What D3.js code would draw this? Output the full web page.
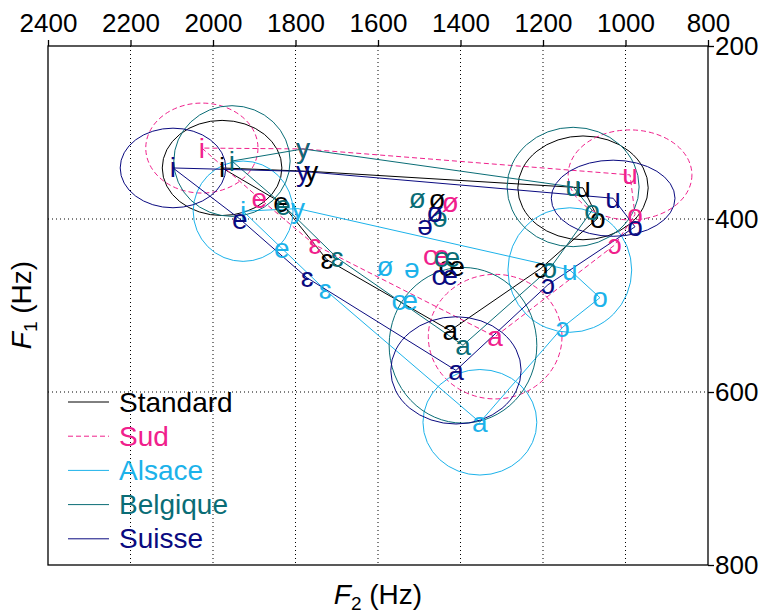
<!DOCTYPE html>
<html lang="fr">
<head>
<meta charset="UTF-8">
<title>Voyelles du français</title>
<script src="https://d3js.org/d3.v7.min.js"></script>
<style>
  body { margin: 0; background: #fff; }
  svg text { font-family: "Liberation Sans", Arial, sans-serif; }
  .grid line { stroke: #000; stroke-width: 1; stroke-dasharray: 1,3; }
  .axis path, .axis line { stroke: #000; stroke-width: 1.3; }
  .axis text { font-size: 26px; fill: #000; }
</style>
</head>
<body>
<svg width="768" height="615"></svg>
<script>
// vowel labels, same order in every series
const vowels = ["i", "y", "e", "ɛ", "ø", "œ", "ə", "a", "ɔ", "o", "u"];
const seriesNames = ["Standard", "Sud", "Alsace", "Belgique", "Suisse"];
const seriesColors = ["#000000", "#f0208c", "#1cb2ea", "#0a6d76", "#0a0a80"];

// F2 / F1 in Hz (null = not plotted)
const standardF2 = [1978, 1762, 1835, 1724, 1457, 1421, null, 1425, 1205, 1067, 1103];
const standardF1 = [341, 345, 381, 447, 378, 455, null, 529, 457, 399, 364];
const sudF2 = [2027, 1782, 1888, 1753, 1425, 1459, null, 1316, 1026, 977, 989];
const sudF1 = [318, 319, 376, 430, 381, 442, null, 536, 430, 395, 349];
const alsaceF2 = [1927, 1794, 1833, 1728, 1583, 1535, 1518, 1353, 1152, 1062, 1135];
const alsaceF1 = [391, 388, 434, 482, 455, 494, 457, 635, 525, 491, 459];
const belgiqueF2 = [1954, 1782, 1830, 1699, 1505, 1433, 1450, 1394, 1183, 1081, 1127];
const belgiqueF1 = [333, 319, 384, 445, 376, 445, 398, 546, 457, 390, 363];
const suisseF2 = [2097, 1782, 1935, 1772, 1462, 1438, 1486, 1411, 1188, 977, 1030];
const suisseF1 = [341, 345, 400, 468, 393, 465, 407, 575, 476, 409, 376];

// dispersion ellipses around i, u, a (half-axes in Hz)
const ellipseVowels = ["i", "u", "a"];
const standardRx = [145, 158, null], standardRy = [55, 60, null];
const sudRx = [136, 150, 162], sudRy = [52, 52, 72];
const alsaceRx = [121, 150, 138], alsaceRy = [58, 72, 61];
const belgiqueRx = [141, 160, 179], belgiqueRy = [64, 69, 90];
const suisseRx = [128, 150, 158], suisseRy = [46, 44, 62];

// outline of the vowel space
const outline = ["i", "e", "ɛ", "a", "ɔ", "o", "u", "y", "i"];

const xTicks = [2400, 2200, 2000, 1800, 1600, 1400, 1200, 1000, 800];
const yTicks = [200, 400, 600, 800];

const allF2 = [standardF2, sudF2, alsaceF2, belgiqueF2, suisseF2];
const allF1 = [standardF1, sudF1, alsaceF1, belgiqueF1, suisseF1];
const allRx = [standardRx, sudRx, alsaceRx, belgiqueRx, suisseRx];
const allRy = [standardRy, sudRy, alsaceRy, belgiqueRy, suisseRy];

const series = seriesNames.map((name, s) => ({
  name,
  color: seriesColors[s],
  dashed: name === "Sud",
  points: vowels.map((v, k) => ({ v, f2: allF2[s][k], f1: allF1[s][k] })).filter(p => p.f2 != null),
  ellipses: ellipseVowels.map((v, k) => ({ v, rx: allRx[s][k], ry: allRy[s][k] })).filter(e => e.rx != null)
}));

const svg = d3.select("svg");
const x = d3.scaleLinear().domain([2400, 800]).range([48, 708]);
const y = d3.scaleLinear().domain([200, 800]).range([46, 565]);

// grid
const grid = svg.append("g").attr("class", "grid");
grid.selectAll(".gx").data(xTicks.slice(1, -1)).enter().append("line")
  .attr("x1", d => x(d)).attr("x2", d => x(d)).attr("y1", y(200)).attr("y2", y(800));
grid.selectAll(".gy").data(yTicks.slice(1, -1)).enter().append("line")
  .attr("x1", x(2400)).attr("x2", x(800)).attr("y1", d => y(d)).attr("y2", d => y(d));

series.forEach(s => {
  const g = svg.append("g");
  const byVowel = new Map(s.points.map(p => [p.v, p]));
  const dash = s.dashed ? "5,3" : null;

  g.selectAll("ellipse").data(s.ellipses).enter().append("ellipse")
    .attr("cx", e => x(byVowel.get(e.v).f2))
    .attr("cy", e => y(byVowel.get(e.v).f1))
    .attr("rx", e => x(2400 - e.rx) - x(2400))
    .attr("ry", e => y(200 + e.ry) - y(200))
    .attr("fill", "none").attr("stroke", s.color).attr("stroke-width", 1)
    .attr("stroke-dasharray", dash);

  const line = d3.line().x(v => x(byVowel.get(v).f2)).y(v => y(byVowel.get(v).f1));
  g.append("path").attr("d", line(outline))
    .attr("fill", "none").attr("stroke", s.color).attr("stroke-width", 1)
    .attr("stroke-dasharray", dash);
});

series.forEach(s => {
  svg.append("g").selectAll("text").data(s.points).enter().append("text")
    .attr("x", p => x(p.f2)).attr("y", p => y(p.f1))
    .attr("text-anchor", "middle").attr("dominant-baseline", "central")
    .attr("font-size", 28).attr("fill", s.color)
    .text(p => p.v);
});

// frame
svg.append("rect").attr("x", x(2400)).attr("y", y(200))
  .attr("width", x(800) - x(2400)).attr("height", y(800) - y(200))
  .attr("fill", "none").attr("stroke", "#000").attr("stroke-width", 1.3);

svg.append("g").attr("class", "axis").attr("transform", `translate(0,${y(200)})`)
  .call(d3.axisTop(x).tickValues(xTicks).tickFormat(d3.format("d"))
    .tickSize(6).tickSizeOuter(0).tickPadding(8))
  .call(g => g.select(".domain").remove());

svg.append("g").attr("class", "axis").attr("transform", `translate(${x(800)},0)`)
  .call(d3.axisRight(y).tickValues(yTicks).tickFormat(d3.format("d"))
    .tickSize(6).tickSizeOuter(0).tickPadding(1))
  .call(g => g.select(".domain").remove());

// axis titles
const xt = svg.append("text").attr("x", 378).attr("y", 604)
  .attr("text-anchor", "middle").attr("font-size", 28);
xt.append("tspan").attr("font-style", "italic").text("F");
xt.append("tspan").attr("font-size", 19).attr("dy", 6).text("2");
xt.append("tspan").attr("dy", -6).text(" (Hz)");

const yt = svg.append("text").attr("transform", "translate(31,305) rotate(-90)")
  .attr("text-anchor", "middle").attr("font-size", 28);
yt.append("tspan").attr("font-style", "italic").text("F");
yt.append("tspan").attr("font-size", 19).attr("dy", 6).text("1");
yt.append("tspan").attr("dy", -6).text(" (Hz)");

// legend
const legend = svg.append("g").selectAll("g").data(series).enter().append("g")
  .attr("transform", (s, k) => `translate(68,${402 + k * 34.2})`);
legend.append("line").attr("x1", 0).attr("x2", 41)
  .attr("stroke", s => s.color).attr("stroke-width", 1)
  .attr("stroke-dasharray", s => s.dashed ? "5,3" : null);
legend.append("text").attr("x", 51).attr("dominant-baseline", "central")
  .attr("font-size", 28).attr("fill", s => s.color).text(s => s.name);
</script>
</body>
</html>
